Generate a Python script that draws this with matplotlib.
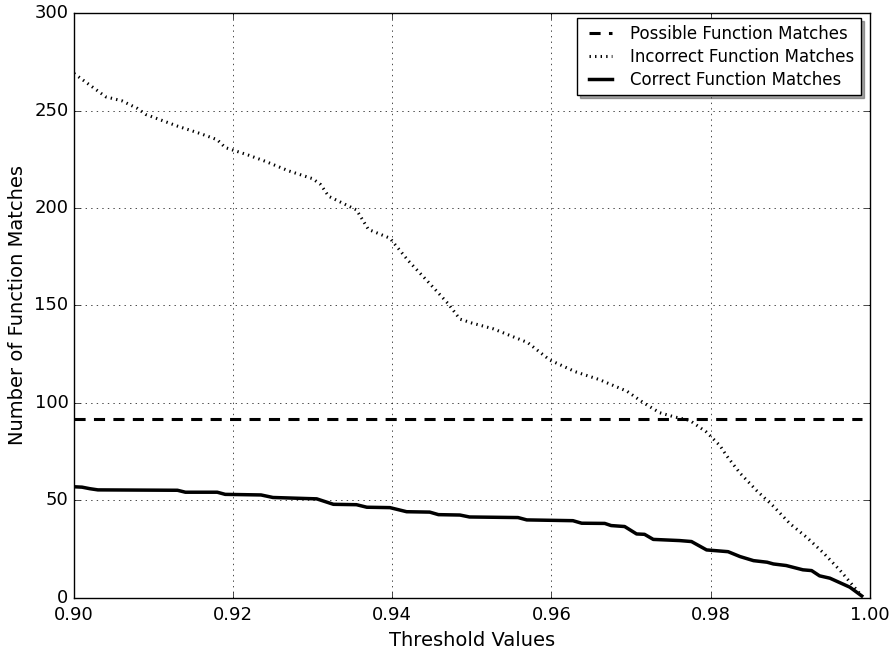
import matplotlib
matplotlib.use('Agg')
import matplotlib.pyplot as plt

# threshold sweep results
possible_x = [0.900, 0.999]
possible_y = [92, 92]

incorrect_x = [0.900, 0.901, 0.902, 0.903, 0.904, 0.906, 0.908, 0.909, 0.911, 0.913,
               0.916, 0.918, 0.919, 0.922, 0.924, 0.927, 0.930, 0.931, 0.932, 0.934,
               0.9355, 0.937, 0.9397, 0.942, 0.9443, 0.947, 0.9485, 0.950, 0.9527, 0.957,
               0.9598, 0.963, 0.966, 0.9695, 0.9716, 0.9736, 0.9753, 0.9774, 0.9795, 0.9812,
               0.982, 0.9837, 0.9858, 0.9879, 0.990, 0.9921, 0.9942, 0.9963, 0.999]
incorrect_y = [269, 266, 263, 260, 257, 255, 251, 248, 245, 242,
               238, 235, 231, 227, 224, 219, 215, 212, 206, 202,
               199, 189, 184.5, 173, 163, 151, 143, 141, 138, 131,
               122, 116, 112, 106, 100, 95, 93, 91, 85, 78,
               73, 64, 55, 47, 38, 31, 23, 14, 1]

correct_x = [0.900, 0.901, 0.902, 0.903, 0.913, 0.914, 0.918, 0.919, 0.9235, 0.925,
             0.9305, 0.9326, 0.9355, 0.9368, 0.9397, 0.9418, 0.9447, 0.9458, 0.9485, 0.9497,
             0.9558, 0.9569, 0.9627, 0.9638, 0.9667, 0.9675, 0.9692, 0.9707, 0.9717, 0.9728,
             0.9761, 0.9776, 0.9795, 0.9822, 0.9837, 0.9854, 0.9871, 0.9879, 0.9895, 0.9916,
             0.9927, 0.9937, 0.995, 0.9975, 0.999]
correct_y = [57, 56.8, 56, 55.4, 55.2, 54.2, 54.2, 53.1, 52.8, 51.5,
             50.8, 48, 47.8, 46.5, 46.3, 44.2, 44.0, 42.7, 42.5, 41.5,
             41.2, 40.0, 39.6, 38.3, 38.2, 37.1, 36.6, 32.8, 32.6, 30.0,
             29.4, 28.9, 24.6, 23.7, 21.2, 19.1, 18.3, 17.4, 16.6, 14.4,
             14, 11.3, 10.1, 5.5, 1]

plt.style.use('classic')
plt.rcParams['figure.facecolor'] = 'white'
plt.rcParams['savefig.facecolor'] = 'white'
plt.rcParams['xtick.labelsize'] = 13
plt.rcParams['ytick.labelsize'] = 13
plt.rcParams['xtick.major.pad'] = 6

fig = plt.figure(figsize=(8.92, 6.52), dpi=100)
ax = fig.add_axes([0.083, 0.083, 0.892, 0.897])

ax.plot(possible_x, possible_y, 'k--', lw=2.2, dashes=(8, 6), label='Possible Function Matches')
ax.plot(incorrect_x, incorrect_y, 'k:', lw=2.2, label='Incorrect Function Matches')
ax.plot(correct_x, correct_y, 'k-', lw=2.5, label='Correct Function Matches')

ax.set_xlim(0.90, 1.00)
ax.set_ylim(0, 300)
ax.set_xticks([0.90, 0.92, 0.94, 0.96, 0.98, 1.00])
ax.set_xticklabels(['0.90', '0.92', '0.94', '0.96', '0.98', '1.00'])
ax.grid(True)
ax.set_xlabel('Threshold Values', fontsize=14)
ax.set_ylabel('Number of Function Matches', fontsize=14)
ax.legend(loc='upper right', bbox_to_anchor=(1.0, 1.006), fontsize=12,
          shadow=True, fancybox=False, labelspacing=0.3, borderpad=0.4)

fig.savefig('out.png', dpi=100)
